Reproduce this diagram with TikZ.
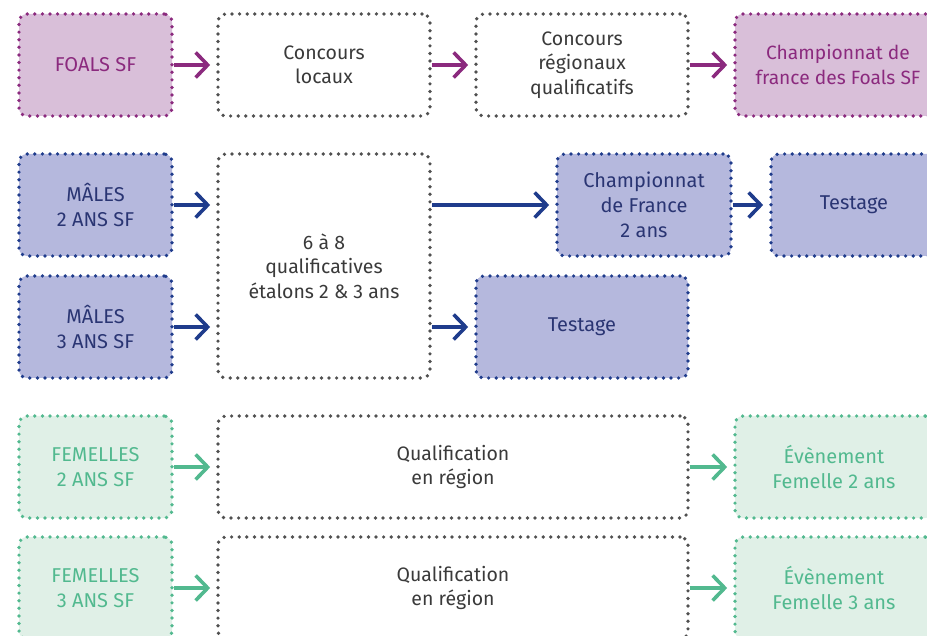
\documentclass[tikz,border=0pt]{standalone}
\usepackage{fontspec}
\setmainfont{Fira Sans}
\usetikzlibrary{arrows.meta}
\definecolor{pstroke}{HTML}{8B2A7E}
\definecolor{pfill}{HTML}{D9BFD9}
\definecolor{bstroke}{HTML}{1F3C8C}
\definecolor{bfill}{HTML}{B5B8DD}
\definecolor{btext}{HTML}{2A3573}
\definecolor{gstroke}{HTML}{52B98F}
\definecolor{gfill}{HTML}{E0F0E7}
\definecolor{gdot}{HTML}{505050}
\definecolor{gtext}{HTML}{3A3A3A}
\tikzset{
  box/.style={rounded corners=8pt, line width=3.7pt, dash pattern=on 0pt off 7.6pt,
    line cap=round, align=center, inner sep=0pt,
    font=\fontsize{20}{25}\selectfont},
  pbox/.style={box, draw=pstroke, fill=pfill, text=pstroke},
  bbox/.style={box, draw=bstroke, fill=bfill, text=btext},
  gbox/.style={box, draw=gstroke, fill=gfill, text=gstroke},
  wbox/.style={box, draw=gdot, fill=white, text=gtext, font=\fontsize{19.5}{24.5}\selectfont},
  arr/.style={line width=3.6pt, shorten >=6pt, -{Straight Barb[length=12pt,width=25pt]}},
  parr/.style={arr, draw=pstroke},
  barr/.style={arr, draw=bstroke},
  garr/.style={arr, draw=gstroke},
}
\begin{document}
\begin{tikzpicture}[x=1pt,y=-1pt]
\clip (0,0) rectangle (927,636);
\fill[white] (0,0) rectangle (927,636);
% row 1
\node[pbox, minimum width=153pt, minimum height=102pt] (foals) at (95.5,65) {FOALS SF};
\node[wbox, minimum width=212pt, minimum height=102pt] (cl) at (324,65) {Concours\\locaux};
\node[wbox, minimum width=212pt, minimum height=102pt] (cr) at (582,65) {Concours\\régionaux\\qualificatifs};
\node[pbox, minimum width=206pt, minimum height=102pt, font=\fontsize{19.2}{25}\selectfont] (cf) at (838,65) {Championnat de\\france des Foals SF};
% row 2
\node[bbox, minimum width=153pt, minimum height=102pt] (m2) at (95.5,205) {MÂLES\\2 ANS SF};
\node[bbox, minimum width=153pt, minimum height=102pt] (m3) at (95.5,327) {MÂLES\\3 ANS SF};
\node[wbox, minimum width=212pt, minimum height=224pt] (q) at (324,266) {6 à 8\\qualificatives\\étalons 2 \& 3 ans};
\node[bbox, minimum width=174pt, minimum height=102pt] (ch2) at (644,205) {Championnat\\de France\\2 ans};
\node[bbox, minimum width=166pt, minimum height=102pt] (t1) at (854,205) {Testage};
\node[bbox, minimum width=212pt, minimum height=102pt] (t2) at (582,327) {Testage};
% row 3
\node[gbox, minimum width=153pt, minimum height=102pt] (f2) at (95.5,467) {FEMELLES\\2 ANS SF};
\node[wbox, minimum width=470pt, minimum height=102pt] (qr1) at (453,467) {Qualification\\en région};
\node[gbox, minimum width=198pt, minimum height=102pt] (e2) at (834,467) {Évènement\\Femelle 2 ans};
\node[gbox, minimum width=153pt, minimum height=102pt] (f3) at (95.5,588) {FEMELLES\\3 ANS SF};
\node[wbox, minimum width=470pt, minimum height=102pt] (qr2) at (453,588) {Qualification\\en région};
\node[gbox, minimum width=198pt, minimum height=102pt] (e3) at (834,588) {Évènement\\Femelle 3 ans};
% arrows
\draw[parr] (foals.east) -- (cl.west);
\draw[parr] (cl.east) -- (cr.west);
\draw[parr] (cr.east) -- (cf.west);
\draw[barr] (m2.east) -- (m2.east -| q.west);
\draw[barr] (m3.east) -- (m3.east -| q.west);
\draw[barr] (ch2.west -| q.east) -- (ch2.west);
\draw[barr] (ch2.east) -- (t1.west);
\draw[barr] (t2.west -| q.east) -- (t2.west);
\draw[garr] (f2.east) -- (qr1.west);
\draw[garr] (qr1.east) -- (e2.west);
\draw[garr] (f3.east) -- (qr2.west);
\draw[garr] (qr2.east) -- (e3.west);
\end{tikzpicture}
\end{document}
